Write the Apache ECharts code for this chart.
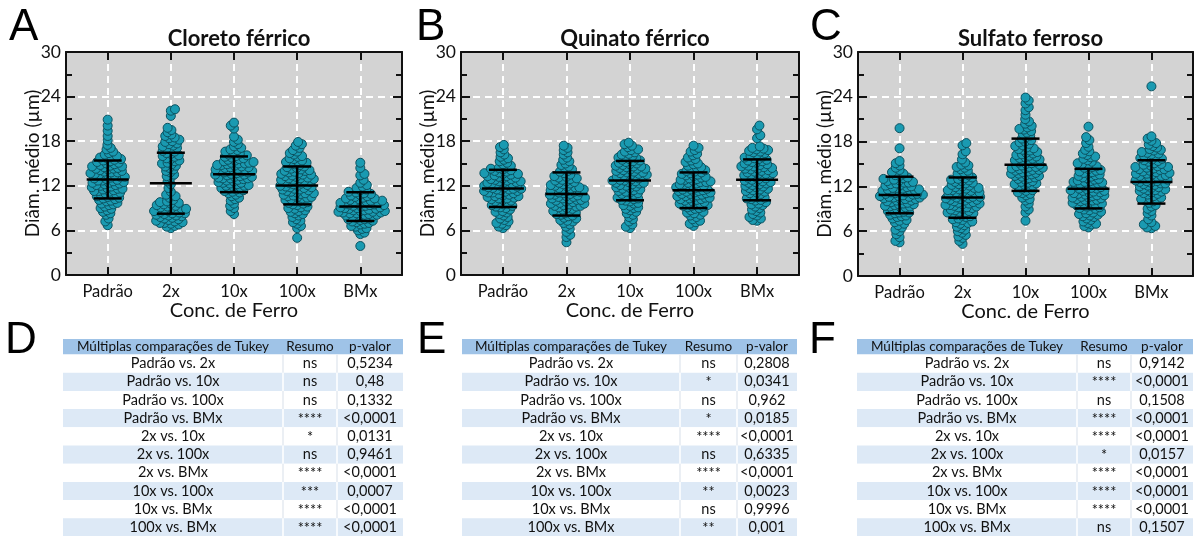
<!DOCTYPE html>
<html><head><meta charset="utf-8">
<script src="https://cdn.jsdelivr.net/npm/echarts@6/dist/echarts.min.js"></script>
<style>html,body{margin:0;padding:0;background:#fff}#c{width:1196px;height:536px}</style>
</head><body><div id="c"></div>
<script>
const categories = ['Padrão','2x','10x','100x','BMx'];
const panelTitles = ['Cloreto férrico','Quinato férrico','Sulfato ferroso'];
const panelLetters = ['A','B','C'];
const tableLetters = ['D','E','F'];
const yTickValues = [0,6,12,18,24,30];
const xAxisName = 'Conc. de Ferro';
const yAxisName = 'Diâm. médio (µm)';

// ---- Panel A: Cloreto férrico ----
const A_pad=[20.9,20.1,19.4,18.7,18.1,17.5,17.1,16.9,16.6,16.4,16.2,16.0,15.9,15.8,15.7,15.6,15.5,15.4,15.3,15.2,15.1,15.0,14.9,14.8,14.7,14.6,14.6,14.5,14.4,14.3,14.3,14.2,14.1,14.0,13.9,13.8,13.8,13.7,13.6,13.5,13.5,13.4,13.3,13.2,13.2,13.1,13.0,12.9,12.8,12.7,12.7,12.6,12.5,12.4,12.4,12.3,12.2,12.1,12.1,12.0,11.9,11.8,11.7,11.6,11.6,11.5,11.4,11.3,11.3,11.2,11.1,11.0,10.9,10.8,10.7,10.6,10.5,10.4,10.3,10.2,10.1,10.0,9.9,9.7,9.6,9.5,9.4,9.2,9.0,8.9,8.7,8.5,8.3,8.1,7.6,7.2,6.7];
const A_2x=[22.3,22.1,21.4,19.8,19.5,19.2,18.9,18.7,18.5,18.4,18.2,18.0,17.9,17.7,17.6,17.4,17.3,17.1,17.0,16.9,16.7,16.6,16.4,16.3,16.1,16.0,15.9,15.7,15.6,15.4,15.3,15.1,15.0,14.9,14.7,14.6,14.4,14.2,14.0,13.8,13.5,13.3,13.1,12.6,12.2,11.7,11.2,10.8,10.6,10.4,10.1,9.9,9.8,9.7,9.6,9.5,9.4,9.3,9.2,9.1,9.0,8.9,8.9,8.8,8.7,8.6,8.6,8.5,8.4,8.3,8.3,8.2,8.1,8.0,8.0,7.9,7.8,7.7,7.6,7.5,7.4,7.3,7.2,7.1,7.0,7.0,6.9,6.8,6.6,6.5,6.3];
const A_10x=[20.5,20.1,19.7,18.6,18.2,17.9,17.6,17.3,17.1,16.9,16.8,16.6,16.5,16.3,16.2,16.1,16.0,15.9,15.8,15.7,15.6,15.5,15.4,15.3,15.2,15.1,15.1,15.0,15.0,14.9,14.8,14.8,14.7,14.6,14.5,14.5,14.4,14.3,14.2,14.2,14.1,14.0,14.0,14.0,13.9,13.8,13.8,13.7,13.6,13.5,13.5,13.4,13.3,13.2,13.2,13.1,13.0,13.0,13.0,12.9,12.8,12.7,12.6,12.5,12.4,12.4,12.3,12.2,12.1,12.0,12.0,11.9,11.8,11.7,11.6,11.5,11.4,11.3,11.2,11.1,11.0,10.8,10.6,10.4,10.2,10.0,9.6,9.3,9.0,8.6,8.2];
const A_100x=[17.9,17.6,17.4,17.1,16.8,16.6,16.4,16.2,16.0,15.9,15.7,15.6,15.4,15.3,15.2,15.1,15.0,14.9,14.8,14.6,14.5,14.4,14.3,14.2,14.1,14.0,14.0,13.9,13.8,13.7,13.6,13.5,13.4,13.3,13.2,13.1,13.0,13.0,13.5,12.9,12.8,12.7,12.6,12.5,12.4,12.3,12.2,12.1,12.0,12.0,12.5,12.8,11.9,11.8,11.7,11.6,11.5,11.4,11.3,11.2,11.1,11.0,11.0,11.5,11.8,10.9,10.8,10.7,10.6,10.5,10.4,10.3,10.2,10.1,10.0,10.5,9.9,9.8,9.6,9.5,9.4,9.2,9.1,9.0,9.7,8.9,8.7,8.5,8.3,8.2,8.0,8.6,7.8,7.5,7.3,7.1,6.9,6.6,6.3,5.0];
const A_BMx=[15.1,14.4,13.6,13.4,12.8,12.4,12.1,11.9,11.7,11.5,11.4,11.2,11.1,11.0,10.9,10.8,10.7,10.6,10.5,10.4,10.3,10.3,10.2,10.1,10.0,10.0,9.9,9.9,9.8,9.7,9.7,9.6,9.5,9.5,9.4,9.3,9.3,9.2,9.1,9.1,9.0,9.0,9.6,9.4,8.9,8.9,8.8,8.7,8.7,8.6,8.5,8.5,8.4,8.3,8.3,8.2,8.1,8.1,8.0,8.0,8.6,8.4,7.9,7.8,7.7,7.6,7.5,7.4,7.3,7.2,7.1,7.0,7.5,6.9,6.8,6.6,6.5,6.3,6.2,6.0,5.7,5.5,3.9];
const A_mean=[12.85,12.35,13.55,12.05,9.2];
const A_sd=[2.55,4.1,2.4,2.55,1.93];

// ---- Panel B: Quinato férrico ----
const B_pad=[17.5,17.2,16.9,16.5,16.2,15.9,15.7,15.5,15.3,15.1,14.9,14.7,14.5,14.4,14.3,14.2,14.1,14.0,13.9,13.8,13.7,13.6,13.5,13.4,13.3,13.2,13.1,13.0,13.6,13.3,12.9,12.8,12.7,12.6,12.5,12.4,12.3,12.2,12.1,12.0,12.9,12.6,12.4,12.2,12.0,11.9,11.8,11.7,11.6,11.5,11.4,11.3,11.2,11.1,11.0,11.8,11.5,11.3,11.1,11.6,10.9,10.8,10.7,10.6,10.5,10.4,10.3,10.2,10.1,10.0,10.6,10.3,9.9,9.7,9.5,9.4,9.3,9.2,9.1,9.0,9.6,8.8,8.6,8.4,8.2,8.0,8.5,7.8,7.6,7.4,7.2,7.0,6.9,6.7,6.5,6.3];
const B_2x=[17.4,17.1,16.8,16.5,16.2,15.8,15.5,15.3,15.0,14.8,14.6,14.4,14.2,14.0,13.9,13.7,13.5,13.3,13.2,13.1,13.0,12.9,12.8,12.7,12.6,12.5,12.4,12.3,12.2,12.1,12.0,11.9,11.8,11.7,11.6,11.5,11.4,11.3,11.2,11.1,11.0,11.8,11.6,11.4,11.2,10.9,10.8,10.7,10.6,10.5,10.4,10.3,10.2,10.1,10.0,10.8,10.5,10.3,10.1,9.9,9.8,9.7,9.6,9.5,9.4,9.3,9.2,9.1,9.0,9.6,9.3,8.9,8.8,8.6,8.5,8.4,8.3,8.2,8.1,8.0,7.9,7.7,7.6,7.4,7.3,7.2,7.0,6.8,6.5,6.2,5.8,5.4,5.1,4.4];
const B_10x=[17.8,17.6,17.4,17.2,16.9,16.8,16.6,16.5,16.3,16.2,16.0,15.9,15.8,15.7,15.6,15.5,15.4,15.3,15.2,15.1,15.0,14.9,14.8,14.7,14.6,14.5,14.4,14.3,14.2,14.1,14.0,14.6,14.3,13.9,13.8,13.7,13.6,13.5,13.4,13.3,13.2,13.1,13.0,13.8,13.5,13.2,12.9,12.8,12.7,12.6,12.5,12.4,12.3,12.2,12.1,12.0,12.7,12.4,11.9,11.8,11.7,11.6,11.5,11.4,11.3,11.2,11.1,11.0,10.9,10.8,10.6,10.5,10.4,10.3,10.2,10.1,10.0,9.9,9.7,9.6,9.4,9.3,9.1,9.0,8.9,8.7,8.5,8.3,8.1,7.8,7.5,7.2,6.8,6.5,6.3];
const B_100x=[17.4,17.1,16.8,16.6,16.3,16.1,15.8,15.6,15.4,15.2,15.0,14.9,14.7,14.5,14.4,14.3,14.1,14.0,13.9,13.8,13.7,13.6,13.5,13.4,13.3,13.2,13.1,13.0,12.9,12.8,12.7,12.6,12.5,12.4,12.3,12.2,12.1,12.0,12.8,12.5,12.2,11.9,11.8,11.7,11.6,11.5,11.4,11.3,11.2,11.1,11.0,11.8,11.5,11.3,11.1,10.9,10.8,10.7,10.6,10.5,10.4,10.3,10.2,10.1,10.0,10.9,10.6,10.4,10.2,9.9,9.8,9.7,9.6,9.5,9.4,9.3,9.2,9.1,9.0,9.6,9.3,8.9,8.7,8.5,8.4,8.3,8.1,8.0,7.8,7.5,7.3,7.1,6.9,6.6];
const B_BMx=[20.1,19.6,18.8,18.4,17.3,17.1,17.0,16.9,16.8,16.7,16.6,16.5,16.4,16.2,16.0,15.9,15.8,15.7,15.6,15.5,15.4,15.3,15.2,15.1,15.0,14.9,14.8,14.7,14.6,14.5,14.4,14.3,14.2,14.1,14.0,14.6,14.3,13.9,13.8,13.7,13.6,13.5,13.4,13.3,13.2,13.1,13.0,13.6,13.3,12.9,12.8,12.7,12.6,12.5,12.4,12.3,12.2,12.1,12.0,12.5,11.9,11.8,11.6,11.5,11.4,11.3,11.2,11.1,11.0,11.7,10.9,10.7,10.5,10.4,10.3,10.2,10.1,10.0,9.8,9.6,9.4,9.2,9.0,9.5,8.8,8.6,8.4,8.2,8.0,7.8,7.6,7.4,7.3];
const B_mean=[11.65,10.9,12.7,11.4,12.8];
const B_sd=[2.5,2.9,2.65,2.4,2.75];

// ---- Panel C: Sulfato ferroso ----
const C_pad=[19.8,17.1,15.4,15.1,14.8,14.5,14.2,13.9,13.7,13.5,13.4,13.2,13.1,13.0,12.9,12.8,12.7,12.6,12.5,12.4,12.3,12.2,12.1,12.0,12.5,11.9,11.8,11.7,11.6,11.5,11.4,11.3,11.2,11.1,11.0,11.8,11.6,11.4,11.2,11.0,10.9,10.8,10.7,10.6,10.5,10.4,10.3,10.2,10.1,10.0,10.9,10.7,10.5,10.3,10.1,10.6,9.9,9.8,9.7,9.6,9.5,9.4,9.3,9.2,9.1,9.0,9.6,9.3,8.9,8.7,8.6,8.5,8.4,8.2,8.1,8.0,8.5,7.9,7.7,7.5,7.4,7.2,7.0,6.8,6.5,6.2,6.0,5.6,5.2,4.7,4.5];
const C_2x=[17.8,17.5,16.7,16.3,15.6,15.2,14.9,14.8,14.6,14.5,14.3,14.1,13.9,13.7,13.5,13.4,13.2,13.1,13.0,12.9,12.8,12.7,12.6,12.5,12.4,12.3,12.2,12.1,12.0,11.9,11.8,11.7,11.6,11.5,11.4,11.3,11.2,11.1,11.0,11.8,11.5,11.2,10.9,10.8,10.7,10.6,10.5,10.4,10.3,10.2,10.1,10.0,10.9,10.6,10.4,10.2,9.9,9.8,9.7,9.6,9.5,9.4,9.3,9.2,9.1,9.0,9.7,9.5,9.2,8.9,8.8,8.7,8.6,8.5,8.4,8.3,8.2,8.1,8.0,8.5,7.9,7.7,7.6,7.5,7.3,7.2,7.1,7.0,6.8,6.6,6.4,6.2,6.0,5.8,5.5,5.3,5.1,4.7,4.3];
const C_10x=[23.9,23.5,23.1,22.6,22.2,21.6,21.0,20.7,20.4,20.1,19.9,19.7,19.6,19.4,19.2,19.0,18.8,18.6,18.4,18.2,18.0,17.9,17.7,17.5,17.4,17.2,17.1,17.0,16.9,16.8,16.6,16.5,16.4,16.3,16.2,16.1,16.0,15.9,15.8,15.7,15.6,15.5,15.4,15.3,15.2,15.1,15.0,15.5,14.9,14.8,14.7,14.6,14.5,14.4,14.3,14.2,14.1,14.0,14.6,14.4,14.2,13.9,13.8,13.7,13.6,13.5,13.4,13.3,13.2,13.1,13.0,13.7,13.4,12.9,12.7,12.5,12.4,12.3,12.2,12.1,12.0,12.6,11.9,11.7,11.5,11.4,11.2,11.1,11.0,10.8,10.5,10.3,10.1,9.7,9.3,8.9,8.5,7.4];
const C_100x=[20.0,18.6,18.2,17.8,17.3,16.9,16.7,16.4,16.2,16.0,15.9,15.7,15.5,15.3,15.1,15.0,14.9,14.7,14.6,14.5,14.3,14.2,14.1,14.0,13.9,13.8,13.7,13.6,13.5,13.4,13.3,13.2,13.1,13.0,12.9,12.8,12.7,12.6,12.5,12.4,12.3,12.2,12.1,12.0,12.6,12.3,11.9,11.8,11.7,11.6,11.5,11.4,11.3,11.2,11.1,11.0,11.7,11.4,11.1,10.9,10.8,10.7,10.6,10.5,10.4,10.3,10.2,10.1,10.0,10.8,10.5,10.2,9.9,9.8,9.7,9.6,9.5,9.4,9.3,9.2,9.1,9.0,9.5,8.9,8.8,8.6,8.5,8.4,8.3,8.2,8.1,8.0,7.9,7.7,7.5,7.3,7.1,7.0,6.9,6.7,6.5];
const C_BMx=[25.4,18.7,18.4,18.1,17.8,17.6,17.4,17.2,17.0,16.9,16.8,16.6,16.5,16.4,16.3,16.1,16.0,15.9,15.8,15.7,15.6,15.5,15.4,15.3,15.1,15.0,14.9,14.8,14.7,14.6,14.5,14.4,14.3,14.2,14.1,14.0,14.6,14.3,13.9,13.8,13.7,13.6,13.5,13.4,13.3,13.2,13.1,13.0,13.7,13.4,12.9,12.8,12.7,12.6,12.5,12.4,12.3,12.2,12.1,12.0,12.7,12.4,11.9,11.8,11.7,11.6,11.5,11.4,11.3,11.2,11.1,11.0,11.5,10.9,10.7,10.5,10.4,10.3,10.2,10.1,10.0,9.8,9.5,9.3,9.0,8.7,8.4,8.1,7.6,7.2,6.9,6.7,6.5,6.4];
const C_mean=[10.85,10.5,14.9,11.7,12.6];
const C_sd=[2.45,2.7,3.5,2.65,2.9];

// ---- Tables D, E, F ----
const tableHeader = ['Múltiplas comparações de Tukey','Resumo','p-valor'];
const comparisons = ['Padrão vs. 2x','Padrão vs. 10x','Padrão vs. 100x','Padrão vs. BMx','2x vs. 10x','2x vs. 100x','2x vs. BMx','10x vs. 100x','10x vs. BMx','100x vs. BMx'];
const D_summary = ['ns','ns','ns','****','*','ns','****','***','****','****'];
const D_p = ['0,5234','0,48','0,1332','<0,0001','0,0131','0,9461','<0,0001','0,0007','<0,0001','<0,0001'];
const E_summary = ['ns','*','ns','*','****','ns','****','**','ns','**'];
const E_p = ['0,2808','0,0341','0,962','0,0185','<0,0001','0,6335','<0,0001','0,0023','0,9996','0,001'];
const F_summary = ['ns','****','ns','****','****','*','****','****','****','ns'];
const F_p = ['0,9142','<0,0001','0,1508','<0,0001','<0,0001','0,0157','<0,0001','<0,0001','<0,0001','0,1507'];

// ================= layout =================
const FONT = 'Lato, "Open Sans", sans-serif';
const TXT = '#111';
const grids = [
  {left:66, top:52, width:336, height:223},
  {left:461, top:52, width:338, height:223},
  {left:858, top:52, width:335, height:224}
];
const XMIN=-0.66, XMAX=4.66;
const panels = [
  {groups:[A_pad,A_2x,A_10x,A_100x,A_BMx], mean:A_mean, sd:A_sd},
  {groups:[B_pad,B_2x,B_10x,B_100x,B_BMx], mean:B_mean, sd:B_sd},
  {groups:[C_pad,C_2x,C_10x,C_100x,C_BMx], mean:C_mean, sd:C_sd}
];
const catIdx = categories.map((c,i)=>i);

// beeswarm layout (pixel space), offsets converted back to axis units
const DIST = 4.4;
function swarm(vals, gi, g){
  const xpx = g.width/(XMAX-XMIN), ypx = g.height/30;
  const placed=[], out=[];
  const sorted = vals.slice().sort((a,b)=>a-b);
  let flip = 1;
  for (const v of sorted){
    const y = v*ypx;
    const near = placed.filter(q=>Math.abs(q.y-y)<DIST);
    const cands=[0];
    for (const q of near){ const dx=Math.sqrt(DIST*DIST-(q.y-y)*(q.y-y)); cands.push(q.x+dx*flip, q.x-dx*flip); }
    cands.sort((a,b)=>Math.abs(a)-Math.abs(b));
    let cx=0;
    for (const c of cands){ if (near.every(q=>(q.x-c)*(q.x-c)+(q.y-y)*(q.y-y)>=DIST*DIST-1e-6)){cx=c;break;} }
    flip = -flip;
    placed.push({x:cx,y}); out.push([gi+cx/xpx, v]);
  }
  return out;
}

const xAxes=[], yAxes=[], series=[], titles=[];
grids.forEach((g,p)=>{
  g.show=true; g.backgroundColor='#d3d3d3'; g.borderWidth=0;
});
const tickStyle={color:'#111', width:2};
for (let p=0;p<3;p++){
  xAxes.push({type:'value', gridIndex:p, min:XMIN, max:XMAX, position:'bottom',
    axisLine:{show:true, onZero:false, lineStyle:{color:'#111', width:2}},
    axisTick:{show:true, inside:true, length:8, customValues:catIdx, lineStyle:tickStyle},
    axisLabel:{show:true, customValues:catIdx, formatter:v=>categories[Math.round(v)], fontSize:16.5, color:TXT, margin:8, fontFamily:FONT},
    splitLine:{show:true, lineStyle:{color:'#fff', width:2, type:[7,5]}},
    name:xAxisName, nameLocation:'middle', nameGap:26, nameMoveOverlap:false, nameTextStyle:{fontSize:20, color:TXT, fontFamily:FONT}
  });
  yAxes.push({type:'value', gridIndex:p, min:0, max:30, interval:6, position:'left',
    axisLine:{show:true, onZero:false, lineStyle:{color:'#111', width:2}},
    axisTick:{show:true, inside:true, length:9, lineStyle:tickStyle},
    minorTick:{show:true, splitNumber:2, length:6, lineStyle:tickStyle},
    axisLabel:{fontSize:17.5, color:TXT, margin:5, fontFamily:FONT},
    splitLine:{show:true, showMinLine:false, showMaxLine:false, lineStyle:{color:'#fff', width:2, type:[7,5]}},
    name:yAxisName, nameLocation:'middle', nameGap:24, nameMoveOverlap:false, nameTextStyle:{fontSize:19, color:TXT, fontFamily:FONT}
  });
}
for (let p=0;p<3;p++){
  xAxes.push({type:'value', gridIndex:p, min:XMIN, max:XMAX, position:'top',
    axisLine:{show:true, onZero:false, lineStyle:{color:'#111', width:2}},
    axisTick:{show:true, inside:true, length:8, customValues:catIdx, lineStyle:tickStyle},
    axisLabel:{show:false, customValues:catIdx}, splitLine:{show:false}
  });
  yAxes.push({type:'value', gridIndex:p, min:0, max:30, interval:6, position:'right',
    axisLine:{show:true, onZero:false, lineStyle:{color:'#111', width:2}},
    axisTick:{show:true, inside:true, length:9, lineStyle:tickStyle},
    minorTick:{show:true, splitNumber:2, length:6, lineStyle:tickStyle},
    axisLabel:{show:false}, splitLine:{show:false}
  });
}
panels.forEach((pn,p)=>{
  const pts = [];
  pn.groups.forEach((vals,i)=>{ swarm(vals,i,grids[p]).forEach(d=>pts.push(d)); });
  series.push({type:'scatter', xAxisIndex:p, yAxisIndex:p, data:pts, symbolSize:9, z:3,
    itemStyle:{color:'#1a9ab1', borderColor:'#0c5260', borderWidth:1, opacity:1}, silent:true});
  series.push({type:'custom', xAxisIndex:p, yAxisIndex:p, z:5, silent:true,
    data: catIdx.map(i=>[i, pn.mean[i], pn.sd[i]]),
    encode:{x:0, y:1},
    renderItem:(params, api)=>{
      const x=api.value(0), m=api.value(1), s=api.value(2);
      const pm=api.coord([x,m]), pt=api.coord([x,m+s]), pb=api.coord([x,m-s]);
      const st={stroke:'#000', lineWidth:2.5};
      return {type:'group', children:[
        {type:'line', shape:{x1:pm[0]-21,y1:pm[1],x2:pm[0]+21,y2:pm[1]}, style:st},
        {type:'line', shape:{x1:pt[0],y1:pt[1],x2:pb[0],y2:pb[1]}, style:st},
        {type:'line', shape:{x1:pt[0]-14,y1:pt[1],x2:pt[0]+14,y2:pt[1]}, style:st},
        {type:'line', shape:{x1:pb[0]-14,y1:pb[1],x2:pb[0]+14,y2:pb[1]}, style:st}
      ]};
    }
  });
  titles.push({text:panelTitles[p], left:grids[p].left+grids[p].width/2, top:23, textAlign:'center',
    textStyle:{fontSize:22, fontWeight:'bold', color:TXT, fontFamily:FONT}});
});

// graphic: panel letters + tables
const graphics=[];
const letterPos=[[9,28],[416,28],[810,28]];
panelLetters.forEach((L,i)=>graphics.push({type:'text', left:letterPos[i][0], top:letterPos[i][1]-22,
  style:{text:L, font:'44px "Liberation Sans", Arial, sans-serif', fill:'#000'}}));
const tLetterPos=[[5,341],[417,341],[809,341]];
tableLetters.forEach((L,i)=>graphics.push({type:'text', left:tLetterPos[i][0], top:tLetterPos[i][1]-22,
  style:{text:L, font:'44px "Liberation Sans", Arial, sans-serif', fill:'#000'}}));

const tables=[
  {cols:[63,283,337,403], summary:D_summary, p:D_p},
  {cols:[462,680,737,797], summary:E_summary, p:E_p},
  {cols:[857,1077,1131,1193], summary:F_summary, p:F_p}
];
const HEAD_TOP=339, HEAD_H=15.5, ROW_H=18.2;
const hFont='13.5px Lato, "Open Sans", sans-serif';
const tFont='14.5px Lato, "Open Sans", sans-serif';
tables.forEach(t=>{
  const [x0,c1,c2,x1]=t.cols;
  graphics.push({type:'rect', shape:{x:x0,y:HEAD_TOP,width:x1-x0,height:HEAD_H}, style:{fill:'#9fc3e7'}});
  const centers=[(x0+c1)/2,(c1+c2)/2,(c2+x1)/2];
  tableHeader.forEach((h,j)=>graphics.push({type:'text', x:centers[j], y:HEAD_TOP+HEAD_H/2,
    style:{text:h, font:hFont, fill:'#111', align:'center', verticalAlign:'middle'}}));
  comparisons.forEach((c,r)=>{
    const y=HEAD_TOP+HEAD_H+r*ROW_H;
    const blue = r%2===1;
    graphics.push({type:'rect', shape:{x:x0,y:y,width:x1-x0,height:ROW_H}, style:{fill: blue?'#dde9f6':'#ffffff'}});
    [c1,c2].forEach(cx=>graphics.push({type:'line', shape:{x1:cx,y1:y,x2:cx,y2:y+ROW_H},
      style:{stroke: blue?'#ffffff':'#e4eaf1', lineWidth:1.5}}));
    const vals=[c, t.summary[r], t.p[r]];
    vals.forEach((v,j)=>graphics.push({type:'text', x:centers[j], y:y+ROW_H/2+(v.indexOf('*')===0?1:0),
      style:{text:v, font:tFont, fill:'#111', align:'center', verticalAlign:'middle'}}));
  });
});

const chart = echarts.init(document.getElementById('c'), null, {renderer:'canvas'});
chart.setOption({
  animation:false,
  backgroundColor:'#ffffff',
  title:titles,
  grid:grids,
  xAxis:xAxes,
  yAxis:yAxes,
  series:series,
  graphic:{elements:graphics}
});
</script></body></html>
